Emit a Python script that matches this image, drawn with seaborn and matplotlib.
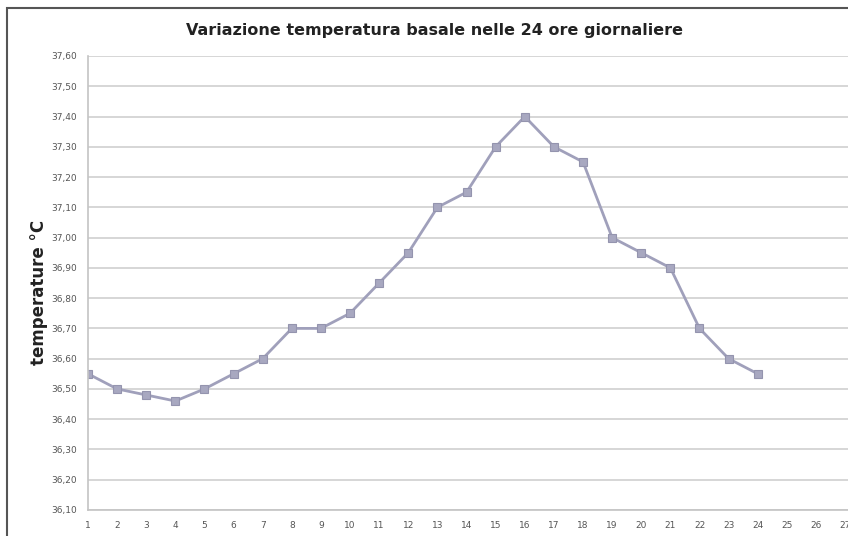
import pandas as pd
import matplotlib.pyplot as plt
import seaborn as sns
from matplotlib.patches import Rectangle

# Dati: temperatura basale nelle 24 ore
ore = list(range(1, 25))
temperatura = [36.55, 36.50, 36.48, 36.46, 36.50, 36.55, 36.60, 36.70, 36.70, 36.75,
               36.85, 36.95, 37.10, 37.15, 37.30, 37.40, 37.30, 37.25, 37.00, 36.95,
               36.90, 36.70, 36.60, 36.55]
y_ticks = [36.10 + 0.10 * i for i in range(16)]
x_ticks = list(range(1, 28))

df = pd.DataFrame({'ora': ore, 'temperatura': temperatura})

sns.set_style('white')
plt.rcParams['font.family'] = ['DejaVu Sans']

fig = plt.figure(figsize=(8.48, 5.36), dpi=100)
ax = fig.add_axes([88 / 848, 1 - 510 / 536, 1 - 88 / 848, (510 - 56) / 536])

sns.lineplot(x='ora', y='temperatura', data=df, ax=ax, color='#a0a0bb',
             linewidth=2, marker='s', markersize=6, markerfacecolor='#a8a8c0',
             markeredgecolor='#9494ae', markeredgewidth=0.8)

ax.set_xlim(1, 27.1)
ax.set_ylim(36.10, 37.60)
ax.set_xticks(x_ticks)
ax.set_xticklabels([str(v) for v in x_ticks], fontsize=6.5, color='#555555')
ax.set_yticks(y_ticks)
ax.set_yticklabels([f'{v:.2f}'.replace('.', ',') for v in y_ticks], fontsize=6.5, color='#555555')
ax.tick_params(axis='both', length=0, pad=8)
ax.yaxis.grid(True, color='#cfcfcf', linewidth=1.2)
ax.xaxis.grid(False)
for side in ['top', 'right']:
    ax.spines[side].set_visible(False)
ax.spines['left'].set_color('#c4c4c4')
ax.spines['bottom'].set_color('#c4c4c4')
ax.spines['left'].set_linewidth(1.2)
ax.spines['bottom'].set_linewidth(1.2)

ax.set_xlabel('')
ax.set_ylabel('temperature °C', fontsize=12, fontweight='bold', color='#222222')
ax.yaxis.set_label_coords(-0.053, 0.48)

fig.text(434 / 848, 1 - 30 / 536, 'Variazione temperatura basale nelle 24 ore giornaliere',
         ha='center', va='center', fontsize=11.5, fontweight='bold', color='#222222')

# cornice del grafico
fig.patches.append(Rectangle((7 / 848, -0.1), 1.2, 1 - 8 / 536 + 0.1, transform=fig.transFigure,
                             fill=False, edgecolor='#555555', linewidth=1.5))

fig.savefig('out.png', dpi=100)
